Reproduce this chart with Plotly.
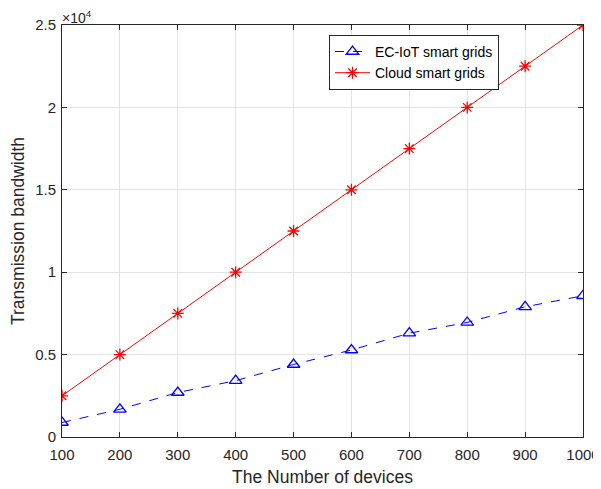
import plotly.graph_objects as go

devices = [100, 200, 300, 400, 500, 600, 700, 800, 900, 1000]
ec_iot = [880, 1680, 2700, 3420, 4400, 5280, 6300, 6950, 7900, 8570]
cloud = [2500, 5000, 7500, 10000, 12500, 15000, 17500, 20000, 22500, 25000]
y_tick_vals = [0, 5000, 10000, 15000, 20000, 25000]
y_tick_text = ["0", "0.5", "1", "1.5", "2", "2.5"]
x_tick_vals = devices

font_family = "Liberation Sans, Arial, sans-serif"
ink = "#262626"

fig = go.Figure()
fig.add_trace(go.Scatter(
    x=devices, y=ec_iot, name="EC-IoT smart grids", mode="lines+markers",
    line=dict(color="#0000ff", width=1, dash="dash"),
    marker=dict(symbol="triangle-up-open", size=11, color="#0000ff", line=dict(width=1.3, color="#0000ff")),
))
fig.add_trace(go.Scatter(
    x=devices, y=cloud, name="Cloud smart grids", mode="lines+markers",
    line=dict(color="#ff0000", width=1),
    marker=dict(symbol="asterisk-open", size=10, color="#ff0000", line=dict(width=1.3, color="#ff0000")),
))

axis_common = dict(
    showline=True, linecolor=ink, linewidth=1, mirror="ticks",
    ticks="inside", ticklen=5, tickcolor=ink,
    showgrid=True, gridcolor="#e3e3e3", gridwidth=1, zeroline=False,
    tickfont=dict(family=font_family, size=15, color=ink),
    automargin=False,
)

fig.update_xaxes(range=[100, 1000], tickvals=x_tick_vals, ticklabelstandoff=4,
                 title=dict(text="The Number of devices", font=dict(family=font_family, size=17.5, color=ink), standoff=8),
                 **axis_common)
fig.update_yaxes(range=[0, 25000], tickvals=y_tick_vals, ticktext=y_tick_text, ticklabelstandoff=2,
                 title=dict(text="Transmission bandwidth", font=dict(family=font_family, size=17.5, color=ink), standoff=6),
                 **axis_common)

fig.add_annotation(xref="paper", yref="paper", x=0, y=1, xanchor="left", yanchor="bottom",
                   text="×10<sup>4</sup>", showarrow=False, xshift=-2, yshift=-3,
                   font=dict(family=font_family, size=14, color=ink))

# page body has an 8px default margin, so the figure is sized/offset to compensate
fig.update_layout(
    width=593, height=481,
    margin=dict(l=54, r=18, t=17, b=52),
    paper_bgcolor="white", plot_bgcolor="white",
    showlegend=True,
    legend=dict(x=0.5125, y=0.976, xanchor="left", yanchor="top",
                bgcolor="white", bordercolor=ink, borderwidth=1,
                font=dict(family=font_family, size=14, color="#000000"),
                tracegroupgap=0, itemwidth=35),
    font=dict(family=font_family),
)

fig.write_html("out.html")
